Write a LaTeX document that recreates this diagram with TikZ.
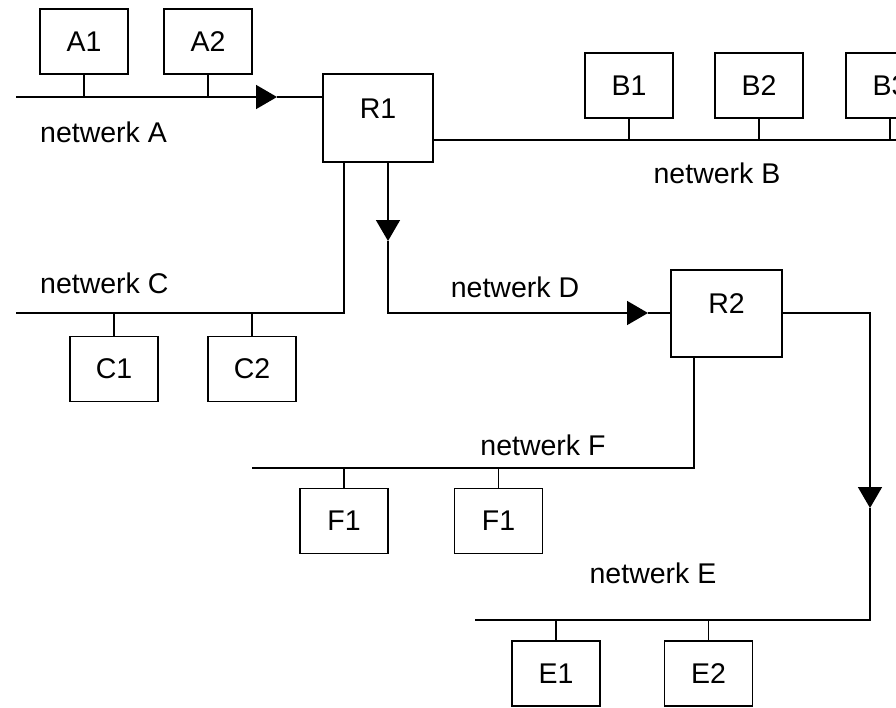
\documentclass[tikz,border=0pt]{standalone}
\usepackage{fontspec}
\setmainfont{Liberation Sans}
\usetikzlibrary{arrows.meta,calc}

\begin{document}
\begin{tikzpicture}[x=1pt,y=-1pt,
  every node/.style={font=\fontsize{28.5}{33}\selectfont, inner sep=0pt},
  host/.style={draw, line width=1.6pt, rectangle, minimum width=88pt, minimum height=65pt},
  router/.style={draw, line width=1.6pt, rectangle, minimum width=110pt, minimum height=88pt,
                 text height=20pt, text depth=20pt},
  wire/.style={line width=1.6pt},
  flow/.style={wire, -{Triangle[width=24pt,length=21pt]}},
  netname/.style={anchor=center},
  netnameL/.style={anchor=west}
]
\useasboundingbox (0,0) rectangle (896,707);
\clip (0,0) rectangle (896,707);

% routers
\node[router] (R1) at (378,118) {R1};
\node[router, minimum width=111pt, minimum height=87pt] (R2) at (726.5,313.5) {R2};

% hosts
\node[host] (A1) at (84,41.5) {A1};
\node[host] (A2) at (208,41.5) {A2};
\node[host] (B1) at (629,85.5) {B1};
\node[host] (B2) at (759,85.5) {B2};
\node[host] (B3) at (890,85.5) {B3};
\node[host] (C1) at (114,369) {C1};
\node[host] (C2) at (252,369) {C2};
\node[host] (F1a) at (344,521) {F1};
\node[host] (F1b) at (498.5,521) {F1};
\node[host] (E1) at (556,673.5) {E1};
\node[host] (E2) at (708.5,673.5) {E2};

% network names
\node[netnameL] (lA) at (40,132) {netwerk A};
\node[netname] (lB) at (717,173) {netwerk B};
\node[netnameL] (lC) at (40,283) {netwerk C};
\node[netname] (lD) at (515,287) {netwerk D};
\node[netname] (lF) at (543,445) {netwerk F};
\node[netname] (lE) at (653,573) {netwerk E};

% bus ends, corners and arrow tips
\coordinate (aL) at (16,97);
\coordinate (tipA) at (277,97);
\coordinate (bR) at (900,140);
\coordinate (cL) at (16,313);
\coordinate (cX) at (344,313);
\coordinate (dX) at (388,313);
\coordinate (tipD1) at (388,241);
\coordinate (tipD2) at (648,313);
\coordinate (fL) at (252,468);
\coordinate (fX) at (694,468);
\coordinate (eX) at (870,313);
\coordinate (tipE) at (870,508);
\coordinate (eL) at (475,620);

% netwerk A
\draw[flow] (aL) -- (tipA);
\draw[wire] (tipA) -- (tipA -| R1.west);
\draw[wire] (A1.south) -- (A1.south |- aL);
\draw[wire] (A2.south) -- (A2.south |- aL);

% netwerk B
\draw[wire] (R1.east |- bR) -- (bR);
\draw[wire] (B1.south) -- (B1.south |- bR);
\draw[wire] (B2.south) -- (B2.south |- bR);
\draw[wire] (B3.south) -- (B3.south |- bR);

% netwerk C
\draw[wire] (R1.south -| cX) -- (cX) -- (cL);
\draw[wire] (C1.north) -- (C1.north |- cL);
\draw[wire] (C2.north) -- (C2.north |- cL);

% netwerk D
\draw[flow] (R1.south -| dX) -- (tipD1);
\draw[flow] (tipD1) -- (dX) -- (tipD2);
\draw[wire] (tipD2) -- (tipD2 -| R2.west);

% netwerk F
\draw[wire] (R2.south -| fX) -- (fX) -- (fL);
\draw[wire] (F1a.north) -- (F1a.north |- fL);
\draw[wire] (F1b.north) -- (F1b.north |- fL);

% netwerk E
\draw[flow] (R2.east |- eX) -- (eX) -- (tipE);
\draw[wire] (tipE) -- (tipE |- eL) -- (eL);
\draw[wire] (E1.north) -- (E1.north |- eL);
\draw[wire] (E2.north) -- (E2.north |- eL);
\end{tikzpicture}
\end{document}
